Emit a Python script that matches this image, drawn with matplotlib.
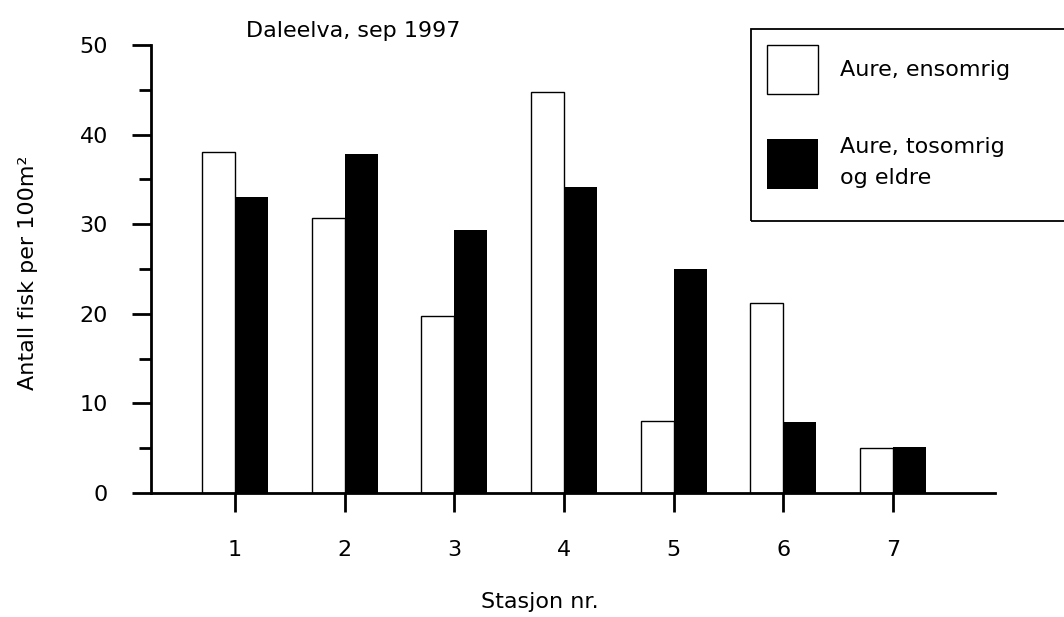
import numpy as np
import matplotlib
matplotlib.use("Agg")
import matplotlib.pyplot as plt
from matplotlib.patches import Rectangle
from matplotlib.ticker import MultipleLocator

# data
stasjon = [1, 2, 3, 4, 5, 6, 7]
ensomrig = [38.1, 30.7, 19.8, 44.7, 8.0, 21.2, 5.0]
tosomrig = [33.0, 37.8, 29.3, 34.1, 25.0, 7.9, 5.1]

fs = 16
plt.rcParams['font.family'] = ['DejaVu Sans']
plt.rcParams['font.size'] = fs

fig = plt.figure(figsize=(10.64, 6.17), dpi=100)
ax = fig.add_axes([151/1064, 1-493/617, (995-151)/1064, (493-45)/617])

x = np.array(stasjon)
w = 0.3
b1 = ax.bar(x - w/2, ensomrig, w, color='white', edgecolor='black', linewidth=1.0,
            label='Aure, ensomrig')
b2 = ax.bar(x + w/2, tosomrig, w, color='black', edgecolor='black', linewidth=0,
            label='Aure, tosomrig\nog eldre')

ax.set_xlim(0.234, 7.93)
ax.set_ylim(0, 50)
ax.set_xticks(stasjon)
ax.yaxis.set_major_locator(MultipleLocator(10))
ax.yaxis.set_minor_locator(MultipleLocator(5))

for s in ['top', 'right']:
    ax.spines[s].set_visible(False)
for s in ['left', 'bottom']:
    ax.spines[s].set_linewidth(2)

ax.tick_params(axis='both', which='major', direction='out', length=14, width=2,
               labelsize=fs)
ax.tick_params(axis='y', which='major', pad=17)
ax.tick_params(axis='x', which='major', pad=20)
ax.tick_params(axis='y', which='minor', direction='out', length=9, width=2)

ax.set_xlabel('Stasjon nr.', fontsize=fs, va='top')
ax.xaxis.set_label_coords(0.461, -0.222)
ax.set_ylabel('Antall fisk per 100m²', fontsize=fs)
ax.yaxis.set_label_coords(-0.134, 0.491)

fig.text(353/1064, 1-31/617, 'Daleelva, sep 1997', fontsize=fs, ha='center', va='center')

leg = ax.legend(handles=[b1, b2], loc='upper left',
                bbox_to_anchor=(751/1064, 0.5, 0.32, 1-29/617-0.5),
                bbox_transform=fig.transFigure, mode='expand', borderaxespad=0,
                frameon=False, fontsize=fs,
                handlelength=2.3, handleheight=3.08, handletextpad=1.0,
                labelspacing=1.9, borderpad=0.7)
for t in leg.get_texts():
    t.set_linespacing(1.7)

# legend box, runs off the right edge like in the original
fig.add_artist(Rectangle((751/1064, 1-221/617), 0.4, (221-29)/617,
                         transform=fig.transFigure, fill=False,
                         edgecolor='black', linewidth=1.3))

fig.savefig('out.png', dpi=100)
